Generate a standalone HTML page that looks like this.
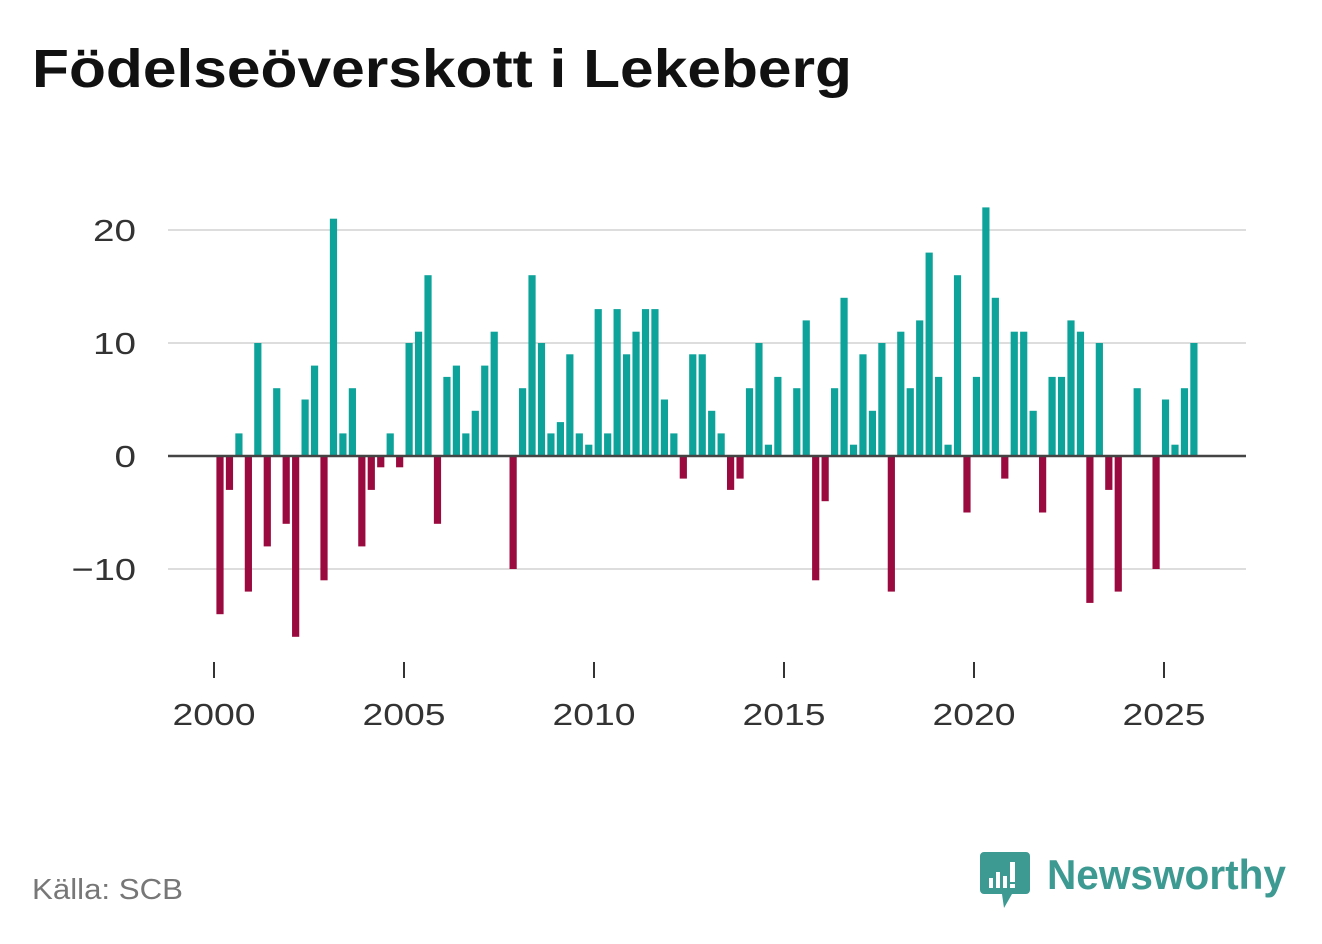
<!DOCTYPE html>
<html><head><meta charset="utf-8"><style>
body{margin:0;width:1322px;height:939px;background:#fff;overflow:hidden;font-family:"Liberation Sans",sans-serif}
</style></head><body>
<svg width="1322" height="939">
<text x="32" y="87" font-size="54" font-weight="bold" fill="#111" textLength="820" lengthAdjust="spacingAndGlyphs">Födelseöverskott i Lekeberg</text>
<g id="grid"></g>
<g id="bars"></g>
<g id="xaxis"></g>
<text x="32" y="899" font-size="29" fill="#777" textLength="151" lengthAdjust="spacingAndGlyphs">Källa: SCB</text>
<g>
<path d="M984 852 h42 a4 4 0 0 1 4 4 v34 a4 4 0 0 1 -4 4 h-14 l-8 14 l-2 -14 h-18 a4 4 0 0 1 -4 -4 v-34 a4 4 0 0 1 4 -4z" fill="#3d9a92"/>
<rect x="989" y="878" width="4" height="10" fill="#fff"/><rect x="996" y="872" width="4" height="16" fill="#fff"/><rect x="1003" y="876" width="4" height="12" fill="#fff"/><rect x="1010" y="862" width="5" height="20" fill="#fff"/><rect x="1010" y="884" width="5" height="4" fill="#fff"/>
<text x="1047" y="889" font-size="42" font-weight="bold" fill="#3d9a92" textLength="239" lengthAdjust="spacingAndGlyphs">Newsworthy</text>
</g>
</svg>
<script>
const values=[-14,-3,2,-12,10,-8,6,-6,-16,5,8,-11,21,2,6,-8,-3,-1,2,-1,10,11,16,-6,7,8,2,4,8,11,0,-10,6,16,10,2,3,9,2,1,13,2,13,9,11,13,13,5,2,-2,9,9,4,2,-3,-2,6,10,1,7,0,6,12,-11,-4,6,14,1,9,4,10,-12,11,6,12,18,7,1,16,-5,7,22,14,-2,11,11,4,-5,7,7,12,11,-13,10,-3,-12,0,6,0,-10,5,1,6,10];
const startYear=2000;
const yTicks=[-10,0,10,20];
const yTickLabels=["\u221210","0","10","20"];
const xTicks=[2000,2005,2010,2015,2020,2025];
const NS="http://www.w3.org/2000/svg";
const x=t=>214+38*(t-2000);
const y=v=>456-11.3*v;
function mk(tag,attrs,parent){const e=document.createElementNS(NS,tag);for(const k in attrs)e.setAttribute(k,attrs[k]);parent.appendChild(e);return e;}
const grid=document.getElementById('grid'),bars=document.getElementById('bars'),xa=document.getElementById('xaxis');
yTicks.forEach((v,i)=>{
 if(v!==0){const l=mk('line',{x1:168,x2:1246,y1:y(v),y2:y(v),stroke:'#dddddd','stroke-width':2},grid);
 
 }
 const lab=yTickLabels[i];
 const t=mk('text',{x:136,y:y(v)+11,'font-size':31,fill:'#333','text-anchor':'end',textLength:lab.length*21.5,lengthAdjust:'spacingAndGlyphs'},grid);
 t.textContent=lab;
 
 
});
values.forEach((v,i)=>{
 const cx=x(startYear+i/4*0.9953+0.158);
 const r=mk('rect',{x:cx-3.6,width:7.2,y:Math.min(y(v),y(0)),height:Math.abs(y(v)-y(0)),fill:v>=0?'#0ea39a':'#9a0a3e'},bars);
 
 
});
const z=mk('line',{x1:168,x2:1246,y1:y(0),y2:y(0),stroke:'#444','stroke-width':2.5},bars);


xTicks.forEach(t=>{
 const l=mk('line',{x1:x(t),x2:x(t),y1:662,y2:678,stroke:'#333','stroke-width':2},xa);
 
 
 const tx=mk('text',{x:x(t),y:725,'font-size':31,fill:'#333','text-anchor':'middle',textLength:83,lengthAdjust:'spacingAndGlyphs'},xa);
 tx.textContent=t;
 
 
});
</script>
</body></html>
